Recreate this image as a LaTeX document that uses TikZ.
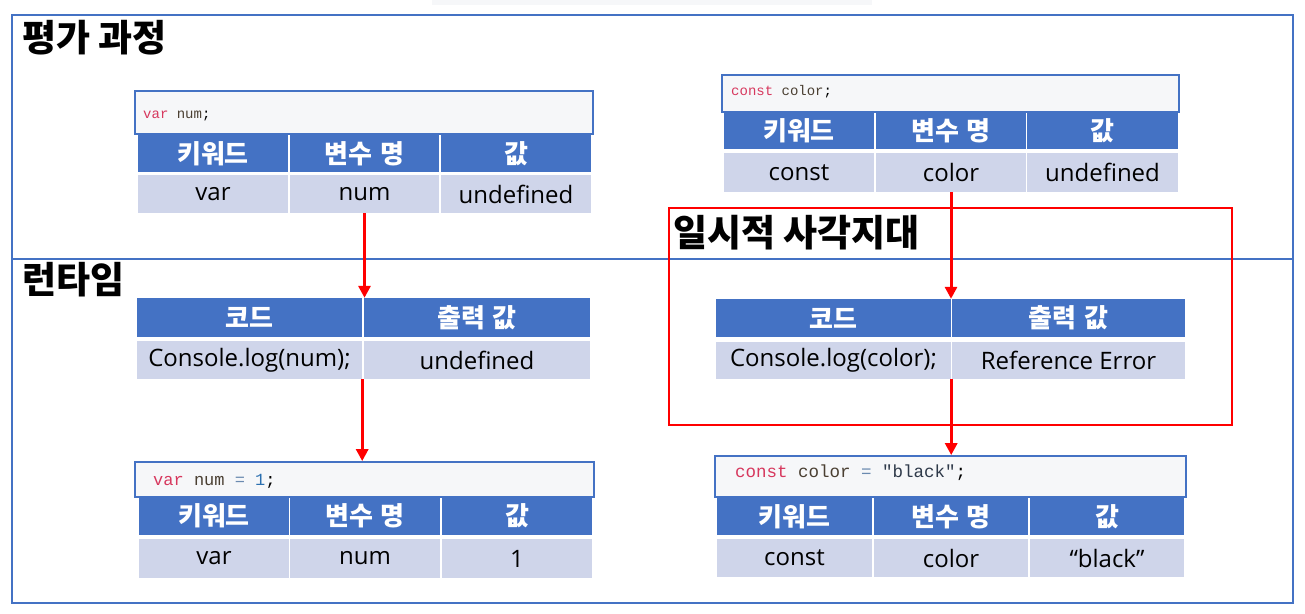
\documentclass[tikz,border=0pt]{standalone}
\usepackage{fontspec}
\setmainfont{Noto Sans CJK KR}
\newfontfamily\lat{Open Sans}
\newfontfamily\mono{Liberation Mono}
\definecolor{bl}{HTML}{4472C4}
\definecolor{rowc}{HTML}{CFD5EA}
\definecolor{codebg}{HTML}{F6F7F9}
\definecolor{kw}{HTML}{D7385E}
\definecolor{idc}{HTML}{4A3F32}
\definecolor{opc}{HTML}{6A8AB0}
\definecolor{numc}{HTML}{2A6FB0}
\definecolor{strc}{HTML}{2F3A4A}
\newcommand\wsp{\hspace{0.3em}}
\tikzset{
  hdr/.style={fill=bl, text=white, font=\fontsize{26}{28}\selectfont\bfseries, inner sep=0pt},
  cellc/.style={fill=rowc, text=black, font=\lat\fontsize{24}{26}\selectfont, inner sep=0pt},
  codebox/.style={draw=bl, line width=1.8pt, fill=codebg, inner sep=0pt},
  codetxt/.style={anchor=west, inner sep=0pt},
  ttl/.style={anchor=north west, inner sep=0pt, font=\fontsize{37}{40}\selectfont\bfseries},
  arr/.style={draw=red, line width=3pt, -{Triangle[length=12pt,width=12pt]}},
}
\usetikzlibrary{arrows.meta}
\begin{document}
\begin{tikzpicture}[x=1pt,y=-1pt]
\useasboundingbox (0,0) rectangle (1305,613);
\fill[codebg] (432,0) rectangle (872,5);
% frame
\draw[bl, line width=2.2pt] (12,15) rectangle (1293,603);
\draw[bl, line width=1.5pt] (12,259) -- (1293,259);
\node[ttl] (title1) at (22,20) {평가 과정};
\node[ttl] (title2) at (22,262) {런타임};
% red box
\draw[red, line width=1.8pt] (669,208) rectangle (1232,425);
\node[ttl] (title3) at (673,215) {일시적 사각지대};

% Table 1
\node[codebox, minimum width=458pt, minimum height=43pt] (t1c) at (364,112.5) {};
\node[codetxt] (t1ct) at (143,116) {\mono\fontsize{14}{16}\selectfont\textcolor{kw}{var} \textcolor{idc}{num};};
\node[hdr, minimum width=150pt, minimum height=37pt] (t1h1) at (213,153.5) {키워드};
\node[hdr, minimum width=149pt, minimum height=37pt] (t1h2) at (364.5,153.5) {변수\wsp 명};
\node[hdr, minimum width=150pt, minimum height=37pt] (t1h3) at (516,153.5) {값};
\node[cellc, minimum width=150pt, minimum height=38pt] (t1d1) at (213,194) {var};
\node[cellc, minimum width=149pt, minimum height=38pt] (t1d2) at (364.5,194) {num};
\node[cellc, minimum width=150pt, minimum height=38pt] (t1d3) at (516,194) {undefined};

% Table 2
\node[codebox, minimum width=457pt, minimum height=37pt] (t2c) at (950.5,93.5) {};
\node[codetxt] (t2ct) at (731,92) {\mono\fontsize{14}{16}\selectfont\textcolor{kw}{const} \textcolor{idc}{color};};
\node[hdr, minimum width=150pt, minimum height=36pt] (t2h1) at (799,131) {키워드};
\node[hdr, minimum width=150pt, minimum height=36pt] (t2h2) at (951,131) {변수\wsp 명};
\node[hdr, minimum width=151pt, minimum height=36pt] (t2h3) at (1102.5,131) {값};
\node[cellc, minimum width=150pt, minimum height=39pt] (t2d1) at (799,172.5) {const};
\node[cellc, minimum width=150pt, minimum height=39pt] (t2d2) at (951,172.5) {color};
\node[cellc, minimum width=151pt, minimum height=39pt] (t2d3) at (1102.5,172.5) {undefined};

% Table 3
\node[hdr, minimum width=225pt, minimum height=39pt] (t3h1) at (249.5,317.5) {코드};
\node[hdr, minimum width=226pt, minimum height=39pt] (t3h2) at (477,317.5) {출력\wsp 값};
\node[cellc, minimum width=225pt, minimum height=38pt] (t3d1) at (249.5,360) {Console.log(num);};
\node[cellc, minimum width=226pt, minimum height=38pt] (t3d2) at (477,360) {undefined};

% Table 4
\node[codebox, minimum width=459pt, minimum height=35pt] (t4c) at (364.5,479.5) {};
\node[codetxt] (t4ct) at (153,481) {\mono\fontsize{17}{19}\selectfont\textcolor{kw}{var} \textcolor{idc}{num} \textcolor{opc}{=} \textcolor{numc}{1};};
\node[hdr, minimum width=150pt, minimum height=38pt] (t4h1) at (214,516) {키워드};
\node[hdr, minimum width=150pt, minimum height=38pt] (t4h2) at (365,516) {변수\wsp 명};
\node[hdr, minimum width=150pt, minimum height=38pt] (t4h3) at (517,516) {값};
\node[cellc, minimum width=150pt, minimum height=39pt] (t4d1) at (214,558.5) {var};
\node[cellc, minimum width=150pt, minimum height=39pt] (t4d2) at (365,558.5) {num};
\node[cellc, minimum width=150pt, minimum height=39pt] (t4d3) at (517,558.5) {1};

% Table 5
\node[hdr, minimum width=235pt, minimum height=38pt] (t5h1) at (833.5,318) {코드};
\node[hdr, minimum width=233pt, minimum height=38pt] (t5h2) at (1068.5,318) {출력\wsp 값};
\node[cellc, minimum width=235pt, minimum height=37pt] (t5d1) at (833.5,360.5) {Console.log(color);};
\node[cellc, minimum width=233pt, minimum height=37pt] (t5d2) at (1068.5,360.5) {Reference Error};

% Table 6
\node[codebox, minimum width=471pt, minimum height=41pt] (t6c) at (950.5,476.5) {};
\node[codetxt] (t6ct) at (735,473) {\mono\fontsize{17.5}{19}\selectfont\textcolor{kw}{const} \textcolor{idc}{color} \textcolor{opc}{=} \textcolor{strc}{"black"};};
\node[hdr, minimum width=155pt, minimum height=37pt] (t6h1) at (794.5,516.5) {키워드};
\node[hdr, minimum width=154pt, minimum height=37pt] (t6h2) at (951,516.5) {변수\wsp 명};
\node[hdr, minimum width=154pt, minimum height=37pt] (t6h3) at (1107,516.5) {값};
\node[cellc, minimum width=155pt, minimum height=38pt] (t6d1) at (794.5,558) {const};
\node[cellc, minimum width=154pt, minimum height=38pt] (t6d2) at (951,558) {color};
\node[cellc, minimum width=154pt, minimum height=38pt] (t6d3) at (1107,558) {“black”};

% arrows
\draw[arr] (t1d2.south) -- (t1d2.south |- t3h1.north);
\draw[arr] (t3d1.south east) -- (t3d1.south east |- t4c.north);
\draw[arr] (t2d2.south) -- (t2d2.south |- t5h1.north);
\draw[arr] (t5d1.south east) -- (t5d1.south east |- t6c.north);
\end{tikzpicture}
\end{document}
